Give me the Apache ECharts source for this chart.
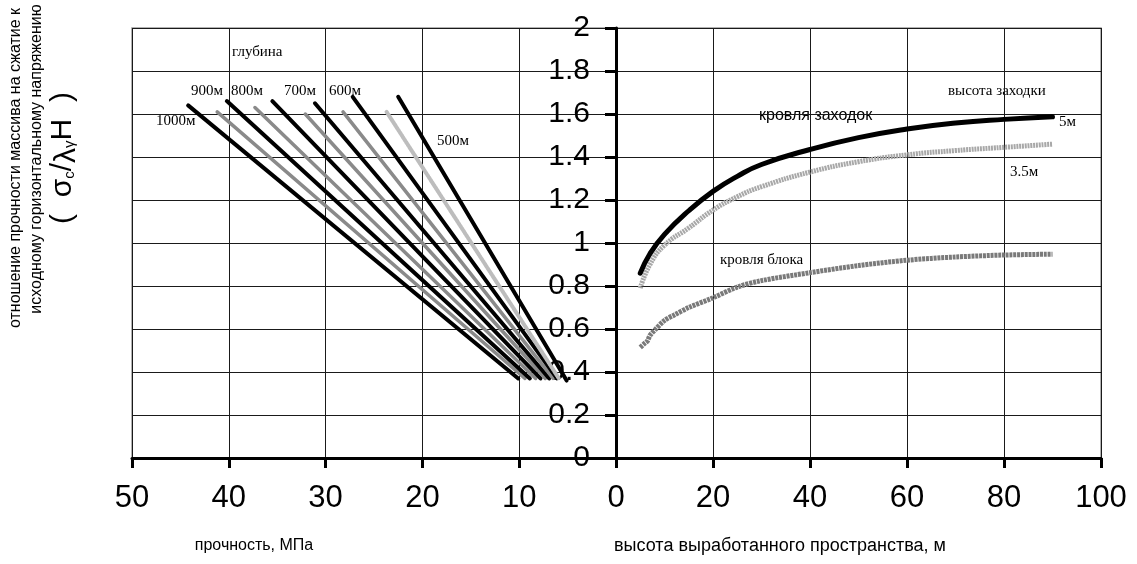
<!DOCTYPE html>
<html><head><meta charset="utf-8">
<script src="https://cdn.jsdelivr.net/npm/echarts@6/dist/echarts.min.js"></script>
<style>html,body{margin:0;padding:0;background:#fff}#c{width:1137px;height:564px}</style>
</head><body><div id="c"></div>
<script>
// ---- data ----
// left panel: strength (MPa) vs ratio, one line per depth
const depth1000 = [[44.2, 1.64], [10.1, 0.37]];
const depth950  = [[41.2, 1.61], [9.4, 0.37]];
const depth900  = [[40.2, 1.66], [8.9, 0.37]];
const depth850  = [[37.3, 1.63], [8.3, 0.37]];
const depth800  = [[35.5, 1.66], [7.8, 0.37]];
const depth750  = [[32.1, 1.60], [7.3, 0.37]];
const depth700  = [[31.1, 1.65], [6.9, 0.37]];
const depth650  = [[28.2, 1.61], [6.5, 0.37]];
const depth600  = [[27.2, 1.68], [6.1, 0.37]];
const depth550  = [[23.7, 1.61], [5.9, 0.37]];
const depth500  = [[22.5, 1.68], [5.1, 0.36]];
// right panel: height of mined-out space (m) vs ratio
const heightX   = [5, 7, 10, 15, 20, 25, 30, 40, 50, 60, 70, 80, 90];
const roof5m    = [0.86, 0.95, 1.04, 1.15, 1.24, 1.31, 1.365, 1.435, 1.49, 1.53, 1.558, 1.575, 1.587];
const roof3_5m  = [0.79, 0.90, 0.99, 1.07, 1.153, 1.215, 1.262, 1.33, 1.378, 1.41, 1.43, 1.445, 1.46];
const blockX    = [5, 6, 6.5, 7, 8, 10, 12, 15, 20, 25, 30, 40, 50, 60, 70, 80, 90];
const blockRoof = [0.515, 0.535, 0.545, 0.57, 0.595, 0.64, 0.665, 0.70, 0.745, 0.795, 0.825, 0.862, 0.895, 0.92, 0.935, 0.944, 0.948];
// ---- chart ----
const chart = echarts.init(document.getElementById('c'), null, {renderer: 'canvas'});
const SANS = 'Liberation Sans, Arial, sans-serif';
const SERIF = 'Liberation Serif, Times New Roman, serif';
const gridLine = {show: true, lineStyle: {color: '#1a1a1a', width: 1}};
function leftLine(name, data, color, width, dash) {
  return {name: name, type: 'line', xAxisIndex: 0, yAxisIndex: 0, data: data, symbol: 'none',
    silent: true, lineStyle: {color: color, width: width, type: dash || 'solid', cap: 'round'}, z: 3};
}
function zip(xs, ys) { return xs.map((x, i) => [x, ys[i]]); }
const option = {
  animation: false,
  backgroundColor: '#fff',
  grid: [
    {left: 132, top: 28, width: 484, height: 430, show: true, borderColor: '#999', borderWidth: 1.5},
    {left: 616, top: 28, width: 485, height: 430, show: true, borderColor: '#999', borderWidth: 1.5}
  ],
  xAxis: [
    {gridIndex: 0, type: 'value', min: 0, max: 50, interval: 10, inverse: true,
     axisLine: {lineStyle: {color: '#000', width: 3}}, axisTick: {length: 10, lineStyle: {width: 3, color: '#000'}},
     axisLabel: {fontSize: 31, fontFamily: SANS, color: '#000', margin: 25, showMinLabel: false},
     splitLine: gridLine},
    {gridIndex: 1, type: 'value', min: 0, max: 100, interval: 20,
     axisLine: {lineStyle: {color: '#000', width: 3}}, axisTick: {length: 10, lineStyle: {width: 3, color: '#000'}},
     axisLabel: {fontSize: 31, fontFamily: SANS, color: '#000', margin: 25},
     splitLine: gridLine}
  ],
  yAxis: [
    {gridIndex: 0, type: 'value', min: 0, max: 2, interval: 0.2,
     axisLine: {show: false}, axisTick: {show: false}, axisLabel: {show: false}, splitLine: gridLine},
    {gridIndex: 1, type: 'value', min: 0, max: 2, interval: 0.2, position: 'left',
     axisLine: {show: true, lineStyle: {color: '#000', width: 3}},
     axisTick: {show: true, length: 11, lineStyle: {width: 3, color: '#000'}},
     axisLabel: {fontSize: 30, fontFamily: SANS, color: '#000', margin: 26,
       formatter: v => String(Math.round(v * 10) / 10)},
     splitLine: gridLine}
  ],
  series: [
    leftLine('1000м', depth1000, '#000', 4),
    leftLine('950м', depth950, '#8a8a8a', 3.5),
    leftLine('900м', depth900, '#000', 4),
    leftLine('850м', depth850, '#8a8a8a', 3.5),
    leftLine('800м', depth800, '#000', 4),
    leftLine('750м', depth750, '#8a8a8a', 3.5),
    leftLine('700м', depth700, '#000', 4),
    leftLine('650м', depth650, '#8a8a8a', 3.5),
    leftLine('600м', depth600, '#000', 4),
    leftLine('550м', depth550, '#bdbdbd', 4, [2, 1]),
    leftLine('500м', depth500, '#000', 4),
    {name: '5м', type: 'line', xAxisIndex: 1, yAxisIndex: 1, data: zip(heightX, roof5m), smooth: 0.5,
     symbol: 'none', lineStyle: {color: '#000', width: 5, cap: 'round'}, z: 4},
    {name: '3.5м', type: 'line', xAxisIndex: 1, yAxisIndex: 1, data: zip(heightX, roof3_5m), smooth: 0.5,
     symbol: 'none', lineStyle: {color: '#a8a8a8', width: 5, type: [2, 0.8]}, z: 3},
    {name: 'кровля блока', type: 'line', xAxisIndex: 1, yAxisIndex: 1, data: zip(blockX, blockRoof), smooth: 0.3,
     symbol: 'none', lineStyle: {color: '#7a7a7a', width: 5, type: [3, 0.8]}, z: 3}
  ],
  graphic: [
    {type: 'text', x: 16, y: 168, rotation: Math.PI / 2,
     style: {text: 'отношение прочности массива на сжатие к', font: '16px ' + SANS, fill: '#000', textAlign: 'center', textVerticalAlign: 'middle'}},
    {type: 'text', x: 37, y: 159, rotation: Math.PI / 2,
     style: {text: 'исходному горизонтальному напряжению', font: '16px ' + SANS, fill: '#000', textAlign: 'center', textVerticalAlign: 'middle'}},
    {type: 'text', x: 63, y: 158, rotation: Math.PI / 2,
     style: {text: '{a|(  σ}{s|c}{a|/}{b|λ}{s|γ}{a|H  )}', textAlign: 'center', textVerticalAlign: 'middle',
       rich: {a: {fontSize: 30, fontFamily: SANS, color: '#000'},
              b: {fontSize: 30, fontFamily: SANS, color: '#000', padding: [8, 0, 0, 0]},
              s: {fontSize: 15, fontFamily: SANS, color: '#000', padding: [14, 0, 0, 0]}}}},
    {type: 'text', x: 254, y: 546, style: {text: 'прочность, МПа', font: '16px ' + SANS, fill: '#000', textAlign: 'center', textVerticalAlign: 'middle'}},
    {type: 'text', x: 780, y: 546, style: {text: 'высота выработанного пространства, м', font: '18px ' + SANS, fill: '#000', textAlign: 'center', textVerticalAlign: 'middle'}},
    {type: 'text', x: 232, y: 52, style: {text: 'глубина', font: '15px ' + SERIF, fill: '#000', textVerticalAlign: 'middle'}},
    {type: 'text', x: 191, y: 91, style: {text: '900м', font: '15px ' + SERIF, fill: '#000', textVerticalAlign: 'middle'}},
    {type: 'text', x: 231, y: 91, style: {text: '800м', font: '15px ' + SERIF, fill: '#000', textVerticalAlign: 'middle'}},
    {type: 'text', x: 284, y: 91, style: {text: '700м', font: '15px ' + SERIF, fill: '#000', textVerticalAlign: 'middle'}},
    {type: 'text', x: 329, y: 91, style: {text: '600м', font: '15px ' + SERIF, fill: '#000', textVerticalAlign: 'middle'}},
    {type: 'text', x: 156, y: 121, style: {text: '1000м', font: '15px ' + SERIF, fill: '#000', textVerticalAlign: 'middle'}},
    {type: 'text', x: 437, y: 141, style: {text: '500м', font: '15px ' + SERIF, fill: '#000', textVerticalAlign: 'middle'}},
    {type: 'text', x: 759, y: 116, style: {text: 'кровля заходок', font: '16px ' + SANS, fill: '#000', textVerticalAlign: 'middle'}},
    {type: 'text', x: 948, y: 91, style: {text: 'высота заходки', font: '15px ' + SERIF, fill: '#000', textVerticalAlign: 'middle'}},
    {type: 'text', x: 1059, y: 122, style: {text: '5м', font: '15px ' + SERIF, fill: '#000', textVerticalAlign: 'middle'}},
    {type: 'text', x: 1010, y: 172, style: {text: '3.5м', font: '15px ' + SERIF, fill: '#000', textVerticalAlign: 'middle'}},
    {type: 'text', x: 720, y: 260, style: {text: 'кровля блока', font: '15px ' + SERIF, fill: '#000', textVerticalAlign: 'middle'}}
  ]
};
chart.setOption(option);
</script></body></html>
